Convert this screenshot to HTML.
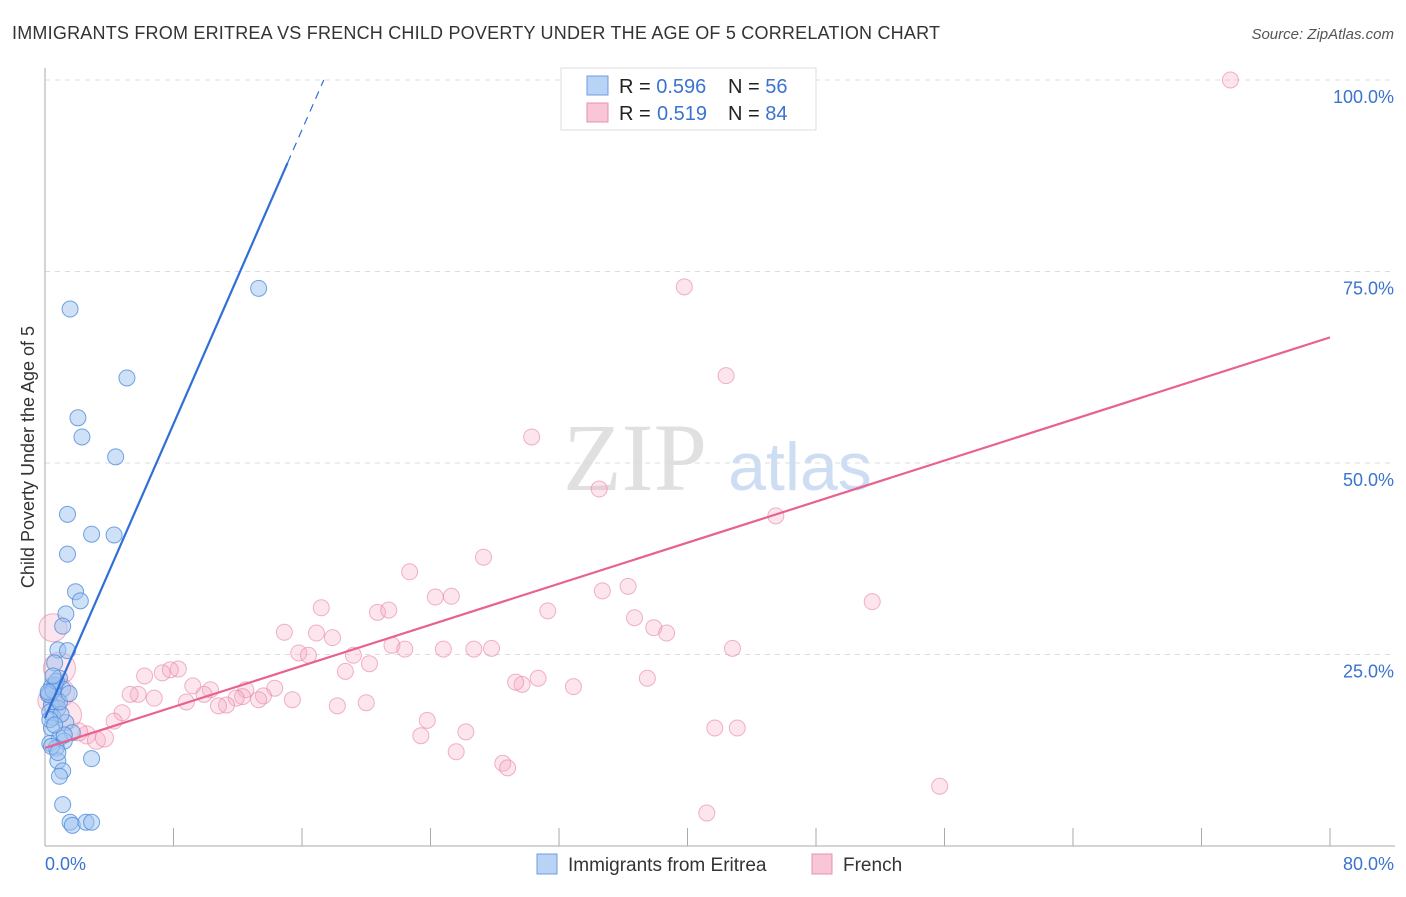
<!DOCTYPE html>
<html><head><meta charset="utf-8"><style>
body{margin:0;background:#fff;font-family:"Liberation Sans",sans-serif}
</style></head><body>
<svg id="chart" width="1406" height="892" xmlns="http://www.w3.org/2000/svg">
<text x="12" y="39" font-size="18" fill="#333" textLength="928">IMMIGRANTS FROM ERITREA VS FRENCH CHILD POVERTY UNDER THE AGE OF 5 CORRELATION CHART</text>
<text x="1394" y="39" font-size="15" fill="#555" text-anchor="end" font-style="italic">Source: ZipAtlas.com</text>
<text x="0" y="0" transform="translate(34,457) rotate(-90)" font-size="18" fill="#333" text-anchor="middle">Child Poverty Under the Age of 5</text>
<g><text x="635" y="490" font-size="96" font-family="Liberation Serif,serif" fill="#ccc" text-anchor="middle" opacity="0.6">ZIP</text><text x="800" y="490" font-size="68" fill="#b8d0f0" text-anchor="middle" opacity="0.7">atlas</text></g>
<g id="grid"></g><g id="axes"></g><g id="pts"></g><g id="lines"></g>
<g>
<rect x="561" y="68" width="255" height="62" fill="#fff" stroke="#ddd"/>
<rect x="587" y="76" width="21" height="19" fill="#b8d3f5" stroke="#6c9de0"/>
<rect x="587" y="103" width="21" height="19" fill="#f8c6d6" stroke="#e890ae"/>
<text x="619" y="93" font-size="20" fill="#222">R = <tspan fill="#3a73d0">0.596</tspan><tspan x="728">N = </tspan><tspan fill="#3a73d0">56</tspan></text>
<text x="619" y="120" font-size="20" fill="#222">R = <tspan fill="#3a73d0" x="657">0.519</tspan><tspan x="728">N = </tspan><tspan fill="#3a73d0">84</tspan></text>
</g>
<g>
<rect x="537" y="854" width="20" height="20" fill="#b8d3f5" stroke="#6c9de0"/>
<text x="568" y="871" font-size="19" fill="#333">Immigrants from Eritrea</text>
<rect x="812" y="854" width="20" height="20" fill="#f8c6d6" stroke="#e890ae"/>
<text x="843" y="871" font-size="19" fill="#333">French</text>
</g>
</svg>
<script>
const yTicks=[25,50,75,100];
const yTickLabels=["25.0%","50.0%","75.0%","100.0%"];
const xTickCount=10;
const blueX=[1.56,5.1,2.05,2.3,4.4,13.3,1.4,2.9,4.3,1.4,1.9,2.2,1.3,1.1,0.8,1.4,0.6,0.9,0.4,1.1,0.25,0.75,0.4,0.8,0.3,0.5,1.3,0.4,1.7,0.9,0.3,1.2,0.7,2.9,0.8,1.1,0.9,1.1,1.56,1.7,2.55,2.9,0.6,0.2,0.5,1.0,0.3,0.7,0.4,1.2,0.6,0.9,0.2,0.5,1.5,0.8];
const blueY=[70.1,61.1,55.9,53.4,50.8,72.8,43.3,40.7,40.6,38.1,33.2,32.0,30.3,28.7,25.6,25.5,23.9,21.9,20.8,20.5,19.7,19.1,18.4,18.0,17.5,16.8,16.1,15.4,14.8,14.1,13.4,13.7,12.8,11.4,11.1,9.8,9.1,5.4,3.1,2.7,3.1,3.1,21.0,19.8,20.3,17.2,16.5,21.5,13.0,14.5,15.8,18.8,20.1,22.2,19.9,12.2];
const pinkX=[73.8,46.4,38.3,39.8,42.4,30.3,34.5,45.5,27.3,22.7,36.3,34.7,51.5,24.3,25.3,17.2,20.7,21.4,31.3,36.7,14.9,16.9,37.9,38.7,17.9,21.6,22.4,15.8,16.4,24.8,26.7,27.8,42.8,19.2,20.2,18.7,8.3,7.8,7.3,6.2,29.7,29.3,30.7,37.5,32.9,9.2,14.3,12.5,5.8,5.3,10.3,6.8,9.9,8.8,12.3,13.6,11.9,13.3,15.4,11.3,10.8,18.2,20.0,4.8,4.3,23.8,23.4,26.2,41.7,43.1,25.6,28.5,28.8,55.7,41.2,0.5,0.9,0.9,1.4,2.6,3.2,3.7,2.1,0.3];
const pinkY=[100,100,100,73.0,61.4,53.4,46.6,43.1,37.7,35.8,33.9,33.3,31.9,32.5,32.6,31.1,30.5,30.8,30.7,29.8,27.9,27.8,28.5,27.8,27.2,26.2,25.7,25.2,24.9,25.7,25.7,25.8,25.8,24.9,23.8,22.8,23.1,23.0,22.6,22.2,21.1,21.4,21.9,21.9,20.8,20.9,20.6,20.4,19.8,19.8,20.4,19.3,19.8,18.8,19.5,19.6,19.3,19.1,19.1,18.4,18.3,18.3,18.7,17.4,16.3,16.4,14.4,14.9,15.4,15.4,12.3,10.8,10.2,7.8,4.3,28.5,23.2,20.0,17.1,14.5,13.8,14.1,14.9,19.0];
const pinkR=[8,8,8,8,8,8,8,8,8,8,8,8,8,8,8,8,8,8,8,8,8,8,8,8,8,8,8,8,8,8,8,8,8,8,8,8,8,8,8,8,8,8,8,8,8,8,8,8,8,8,8,8,8,8,8,8,8,8,8,8,8,8,8,8,8,8,8,8,8,8,8,8,8,8,8,14,16,15,14,9,9,9,9,12];
const blueLine=[16.7,4.8]; // intercept, slope
const pinkLine=[12.8,0.67];
const X0=45,X1=1330,Y0=846,Y100=80;
const sx=v=>X0+v*(X1-X0)/80, sy=v=>Y0-v*(Y0-Y100)/100;
const NS="http://www.w3.org/2000/svg";
function mk(t,a,p){const e=document.createElementNS(NS,t);for(const k in a)e.setAttribute(k,a[k]);document.getElementById(p).appendChild(e);return e;}
yTicks.forEach((v,i)=>{
 const g=mk('line',{x1:45,x2:1395,y1:sy(v),y2:sy(v),stroke:'#ddd','stroke-dasharray':'5,5'},'grid');
 
 
 const t=mk('text',{x:1394,y:sy(v)+23,'font-size':18,fill:'#3a73d0','text-anchor':'end'},'axes');t.textContent=yTickLabels[i];
 
 
});
let a=mk('line',{x1:45,x2:45,y1:68,y2:846,stroke:'#aaa'},'axes');


a=mk('line',{x1:45,x2:1395,y1:846,y2:846,stroke:'#aaa'},'axes');


for(let i=1;i<=xTickCount;i++){const x=sx(i*8);const t=mk('line',{x1:x,x2:x,y1:828,y2:846,stroke:'#aaa'},'axes');
 
 }
let t=mk('text',{x:45,y:870,'font-size':18,fill:'#3a73d0'},'axes');t.textContent='0.0%';


t=mk('text',{x:1394,y:870,'font-size':18,fill:'#3a73d0','text-anchor':'end'},'axes');t.textContent='80.0%';


pinkX.forEach((v,i)=>{const c=mk('circle',{cx:sx(v),cy:sy(pinkY[i]),r:pinkR[i],fill:'rgba(245,170,195,0.3)',stroke:'rgba(230,130,165,0.6)','stroke-width':1},'pts');
 
 });
blueX.forEach((v,i)=>{const c=mk('circle',{cx:sx(v),cy:sy(blueY[i]),r:8,fill:'rgba(160,195,240,0.5)',stroke:'rgba(80,140,220,0.8)','stroke-width':1},'pts');
 
 });
const bxEnd=15.1, bxMax=(100-blueLine[0])/blueLine[1];
let l=mk('line',{x1:sx(0),y1:sy(blueLine[0]),x2:sx(bxEnd),y2:sy(blueLine[0]+blueLine[1]*bxEnd),stroke:'#2f6fd6','stroke-width':2.2},'lines');


l=mk('line',{x1:sx(bxEnd),y1:sy(blueLine[0]+blueLine[1]*bxEnd),x2:sx(bxMax),y2:sy(100),stroke:'#2f6fd6','stroke-width':1.2,'stroke-dasharray':'8,6'},'lines');


l=mk('line',{x1:sx(0),y1:sy(pinkLine[0]),x2:sx(80),y2:sy(pinkLine[0]+pinkLine[1]*80),stroke:'#e8628f','stroke-width':2.2},'lines');


</script>
</body></html>
